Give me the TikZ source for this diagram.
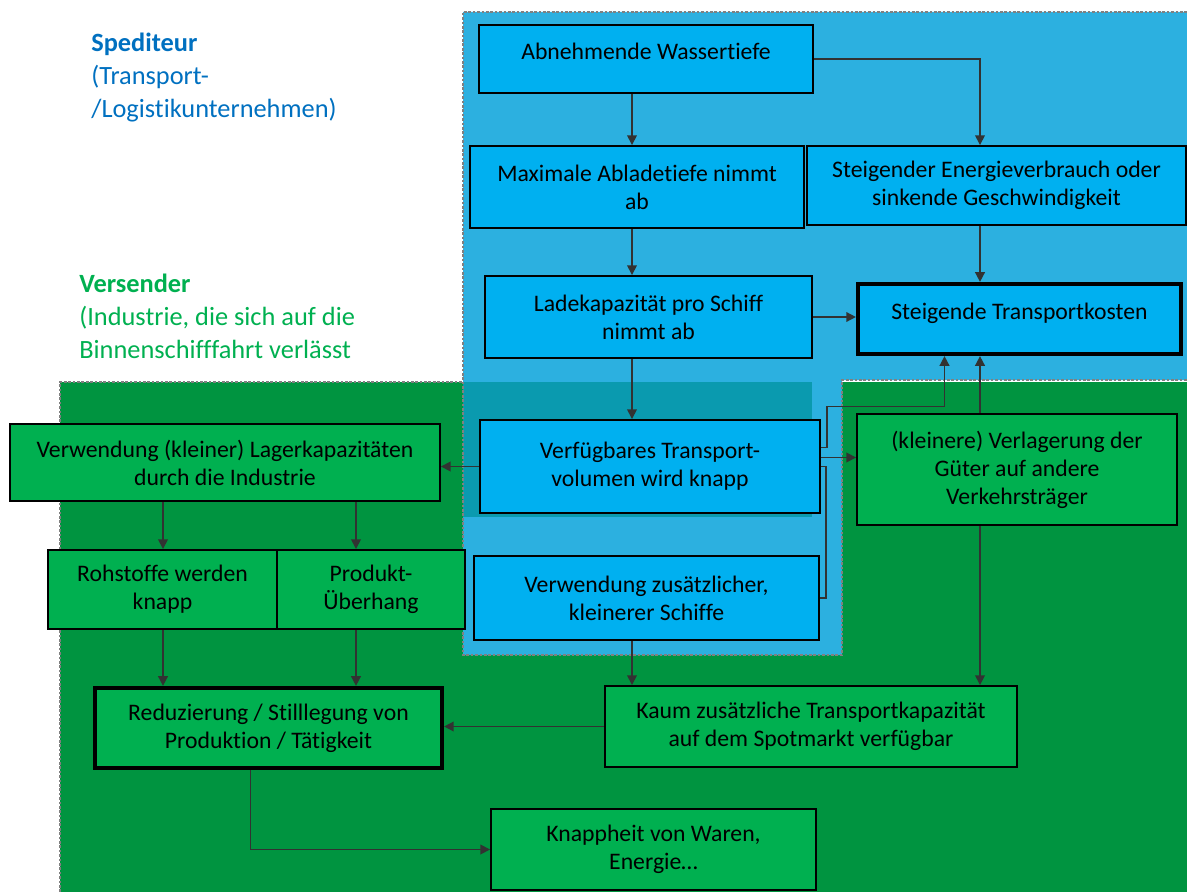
\documentclass[tikz,border=0pt]{standalone}
\usepackage{fontspec}
\setmainfont{Carlito}[Ligatures=NoCommon]
\usetikzlibrary{arrows.meta,calc}
\definecolor{regionBlue}{RGB}{44,176,224}
\definecolor{boxBlue}{RGB}{0,176,240}
\definecolor{regionGreen}{RGB}{0,148,64}
\definecolor{boxGreen}{RGB}{0,176,80}
\definecolor{regionTeal}{RGB}{10,154,175}
\definecolor{labelBlue}{RGB}{0,112,192}
\definecolor{labelGreen}{RGB}{0,176,80}
\definecolor{lineGray}{RGB}{50,50,50}

\begin{document}
\begin{tikzpicture}[x=0.02cm, y=-0.02cm,
    blueNode/.style={rectangle, draw=black, fill=boxBlue, line width=1.1pt, inner sep=0pt, align=center, font=\fontsize{13.5}{16}\selectfont},
    greenNode/.style={blueNode, fill=boxGreen},
    keyNode/.style={line width=2.4pt},
    arrowStyle/.style={draw=lineGray, line width=0.9pt, -{Triangle[length=5.5pt, width=5.5pt]}},
    lineStyle/.style={draw=lineGray, line width=0.9pt},
    regionBorder/.style={draw=gray, line width=1.5pt, densely dotted},
    labelStyle/.style={anchor=north west, align=left, inner sep=0pt, font=\fontsize{15}{18.7}\selectfont}]
    \useasboundingbox (0,0) rectangle (1187,892);
    \fill[regionGreen] (60,382) rectangle (1187,892);
    \draw[regionBorder] (60,892) -- (60,382) -- (463,382);
    \fill[regionBlue] (463,12) -- (1187,12) -- (1187,380) -- (842,380) -- (842,655) -- (463,655) -- cycle;
    \fill[regionTeal] (463,382) rectangle (812,517);
    \draw[regionBorder] (1187,12) -- (463,12) -- (463,655) -- (842,655) -- (842,380) -- (1187,380);

    \node[labelStyle, text=labelBlue] (spediteur) at (91,33) {\textbf{Spediteur}\\(Transport-\\/Logistikunternehmen)};
    \node[labelStyle, text=labelGreen] (versender) at (79,274) {\textbf{Versender}\\(Industrie, die sich auf die\\Binnenschifffahrt verlässt};

    \node[blueNode, text depth=0.3cm, minimum width=6.68cm, minimum height=1.36cm] (abnehmend) at (646,59) {Abnehmende Wassertiefe};
    \node[blueNode, minimum width=6.68cm, minimum height=1.64cm] (abladetiefe) at (637,187) {Maximale Abladetiefe nimmt\\ab};
    \node[blueNode, minimum width=7.58cm, minimum height=1.58cm] (energie) at (996.5,185.5) {Steigender Energieverbrauch oder\\sinkende Geschwindigkeit};
    \node[blueNode, minimum width=6.54cm, minimum height=1.64cm] (ladekap) at (648.5,317) {Ladekapazität pro Schiff\\nimmt ab};
    \node[blueNode, keyNode, text depth=0.3cm, minimum width=6.46cm, minimum height=1.40cm] (kosten) at (1019.5,319) {Steigende Transportkosten};
    \node[blueNode, minimum width=6.80cm, minimum height=1.86cm] (volumen) at (650,466.5) {Verfügbares Transport-\\volumen wird knapp};
    \node[greenNode, minimum width=8.60cm, minimum height=1.54cm] (lager) at (225,462.5) {Verwendung (kleiner) Lagerkapazitäten\\durch die Industrie};
    \node[greenNode, minimum width=6.40cm, minimum height=2.22cm] (verlagerung) at (1017,469.5) {(kleinere) Verlagerung der\\Güter auf andere\\Verkehrsträger};
    \node[greenNode, minimum width=4.58cm, minimum height=1.58cm] (rohstoffe) at (162.5,589.5) {Rohstoffe werden\\knapp};
    \node[greenNode, minimum width=3.76cm, minimum height=1.58cm] (ueberhang) at (371,589.5) {Produkt-\\Überhang};
    \node[blueNode, minimum width=6.90cm, minimum height=1.68cm] (schiffe) at (646.5,598) {Verwendung zusätzlicher,\\kleinerer Schiffe};
    \node[greenNode, keyNode, minimum width=6.94cm, minimum height=1.60cm] (stilllegung) at (268.5,728) {Reduzierung / Stilllegung von\\Produktion / Tätigkeit};
    \node[greenNode, minimum width=8.24cm, minimum height=1.62cm] (spotmarkt) at (811,726.5) {Kaum zusätzliche Transportkapazität\\auf dem Spotmarkt verfügbar};
    \node[greenNode, minimum width=6.50cm, minimum height=1.62cm] (knappheit) at (653.5,849.5) {Knappheit von Waren,\\Energie…};

    \coordinate (midCol) at (632,0);
    \coordinate (rightCol) at (980,0);
    \coordinate (leftCol) at (163,0);
    \coordinate (prodCol) at (356,0);
    \coordinate (toKosten) at ($(volumen.east)+(0,-19)$);
    \coordinate (toVerlagerung) at ($(volumen.east)+(0,-9)$);

    \draw[arrowStyle] (abnehmend.south -| midCol) -- (abladetiefe.north -| midCol);
    \draw[arrowStyle] (abnehmend.east) -| (energie.north -| rightCol);
    \draw[arrowStyle] (abladetiefe.south -| midCol) -- (ladekap.north -| midCol);
    \draw[arrowStyle] (energie.south -| rightCol) -- (kosten.north -| rightCol);
    \draw[arrowStyle] (ladekap.east) -- (ladekap.east -| kosten.west);
    \draw[arrowStyle] (ladekap.south -| midCol) -- (volumen.north -| midCol);
    \draw[arrowStyle] (volumen.west) -- (volumen.west -| lager.east);
    \draw[arrowStyle] (toKosten) -- ++(6,0) -- ++(0,-41) -| ($(kosten.south)+(-75,0)$);
    \draw[arrowStyle] (toVerlagerung) -- (toVerlagerung -| verlagerung.west);
    \draw[lineStyle] (schiffe.east) -- ++(6,0) |- (volumen.east);
    \draw[arrowStyle] (verlagerung.north -| rightCol) -- (kosten.south -| rightCol);
    \draw[arrowStyle] (verlagerung.south -| rightCol) -- (spotmarkt.north -| rightCol);
    \draw[arrowStyle] (lager.south -| leftCol) -- (rohstoffe.north -| leftCol);
    \draw[arrowStyle] (lager.south -| prodCol) -- (ueberhang.north -| prodCol);
    \draw[arrowStyle] (rohstoffe.south -| leftCol) -- (stilllegung.north -| leftCol);
    \draw[arrowStyle] (ueberhang.south -| prodCol) -- (stilllegung.north -| prodCol);
    \draw[arrowStyle] (schiffe.south -| midCol) -- (spotmarkt.north -| midCol);
    \draw[arrowStyle] (spotmarkt.west) -- (spotmarkt.west -| stilllegung.east);
    \draw[arrowStyle] ($(stilllegung.south)+(-18,0)$) |- (knappheit.west);
\end{tikzpicture}
\end{document}
